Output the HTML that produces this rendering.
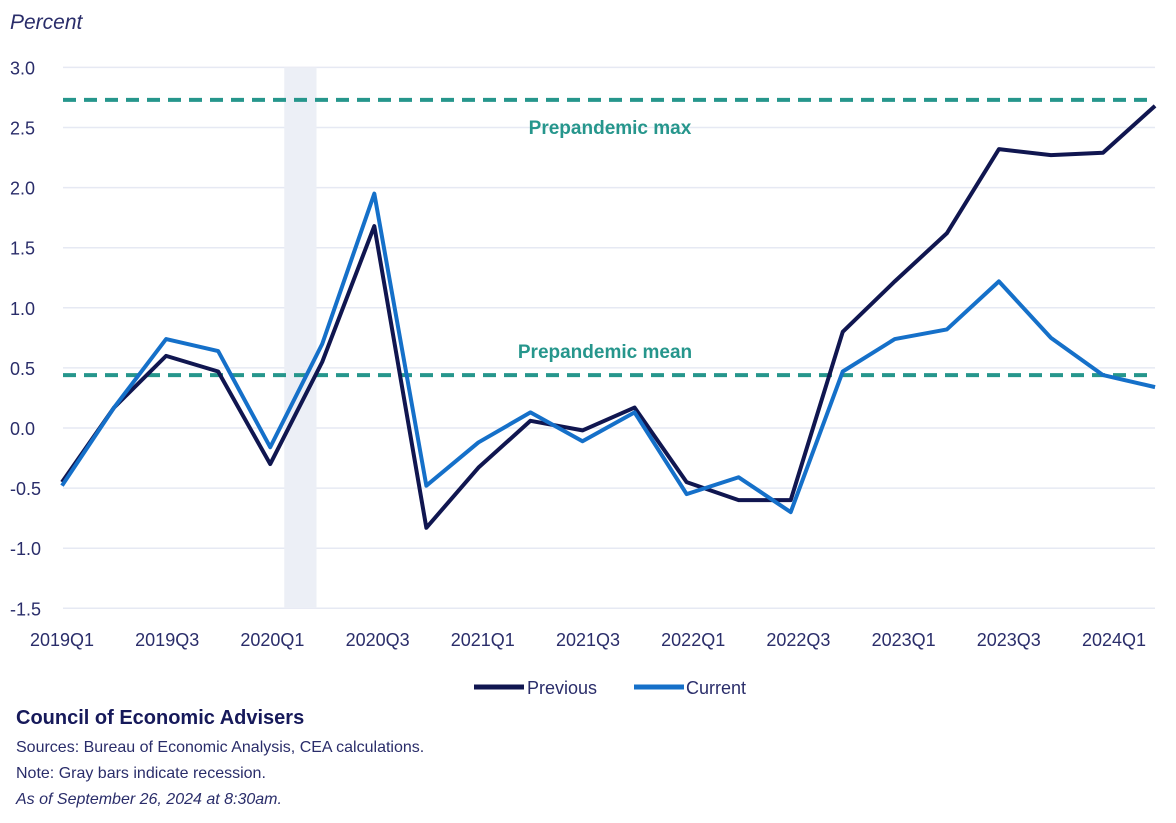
<!DOCTYPE html>
<html><head><meta charset="utf-8"><style>
body{margin:0;background:#fff;width:1176px;height:818px;overflow:hidden;font-family:"Liberation Sans",sans-serif;}
</style></head><body>
<svg width="1176" height="818" xmlns="http://www.w3.org/2000/svg">
<text x="10" y="29" font-size="21" font-style="italic" fill="#2a2d6a">Percent</text>
<g id="grid"></g><g id="marks"></g><g id="xlab"></g>
<text x="610" y="134" font-size="19" font-weight="bold" fill="#26968c" text-anchor="middle">Prepandemic max</text>
<text x="605" y="358" font-size="19" font-weight="bold" fill="#26968c" text-anchor="middle">Prepandemic mean</text>
<g>
<line x1="474" y1="687" x2="524" y2="687" stroke="#101650" stroke-width="5"/>
<text x="527" y="694" font-size="18" fill="#2a2d6a">Previous</text>
<line x1="634" y1="687" x2="684" y2="687" stroke="#1570c9" stroke-width="5"/>
<text x="686" y="694" font-size="18" fill="#2a2d6a">Current</text>
</g>
<text x="16" y="724" font-size="20" font-weight="bold" fill="#16195a">Council of Economic Advisers</text>
<text x="16" y="752" font-size="16" fill="#2a2d6a">Sources: Bureau of Economic Analysis, CEA calculations.</text>
<text x="16" y="778" font-size="16" fill="#2a2d6a">Note: Gray bars indicate recession.</text>
<text x="16" y="804" font-size="16" font-style="italic" fill="#2a2d6a">As of September 26, 2024 at 8:30am.</text>
</svg>
<script>
const quarters=["2019Q1","2019Q2","2019Q3","2019Q4","2020Q1","2020Q2","2020Q3","2020Q4","2021Q1","2021Q2","2021Q3","2021Q4","2022Q1","2022Q2","2022Q3","2022Q4","2023Q1","2023Q2","2023Q3","2023Q4","2024Q1","2024Q2"];
const previous=[-0.45,0.17,0.6,0.47,-0.3,0.55,1.68,-0.83,-0.33,0.06,-0.02,0.17,-0.45,-0.6,-0.6,0.8,1.22,1.62,2.32,2.27,2.29,2.68];
const current=[-0.48,0.17,0.74,0.64,-0.16,0.7,1.95,-0.48,-0.12,0.13,-0.11,0.13,-0.55,-0.41,-0.7,0.47,0.74,0.82,1.22,0.75,0.44,0.34];
const yTicks=[3.0,2.5,2.0,1.5,1.0,0.5,0.0,-0.5,-1.0,-1.5];
const prepMax=2.73, prepMean=0.44;
const recession=[4.27,4.89];
const NS="http://www.w3.org/2000/svg";
const X=i=>62+i*52.05, Y=v=>428-v*120.2;
function mk(t,a,p){const e=document.createElementNS(NS,t);for(const k in a)e.setAttribute(k,a[k]);p.appendChild(e);return e;}
const grid=document.getElementById('grid'),marks=document.getElementById('marks'),xl=document.getElementById('xlab');
yTicks.forEach(v=>{
 const l=mk('line',{x1:63,x2:1155,y1:Y(v),y2:Y(v),stroke:'#e6e9f3','stroke-width':1.5},grid);
 
 
 const t=mk('text',{x:10,y:Y(v)+7,'font-size':18,fill:'#2a2d6a'},grid);t.textContent=v.toFixed(1);
 
 
});
const r=mk('rect',{x:X(recession[0]),y:Y(3),width:X(recession[1])-X(recession[0]),height:Y(-1.5)-Y(3),fill:'#eceff6'},grid);


quarters.forEach((q,i)=>{if(i%2)return;
 const t=mk('text',{x:X(i)+i*0.55,y:646,'font-size':18,fill:'#2a2d6a','text-anchor':'middle'},xl);t.textContent=q;
 
 
});
[[prepMax,'prepandemic-max-line'],[prepMean,'prepandemic-mean-line']].forEach(([v,n])=>{
 const l=mk('line',{x1:63,x2:1155,y1:Y(v),y2:Y(v),stroke:'#26968c','stroke-width':4,'stroke-dasharray':'13 8'},marks);
 
 
});
[[previous,'#101650','previous-line'],[current,'#1570c9','current-line']].forEach(([d,c,n])=>{
 const p=mk('polyline',{points:d.map((v,i)=>X(i)+','+Y(v)).join(' '),fill:'none',stroke:c,'stroke-width':4,'stroke-linejoin':'round'},marks);
 
 
});
</script>
</body></html>
